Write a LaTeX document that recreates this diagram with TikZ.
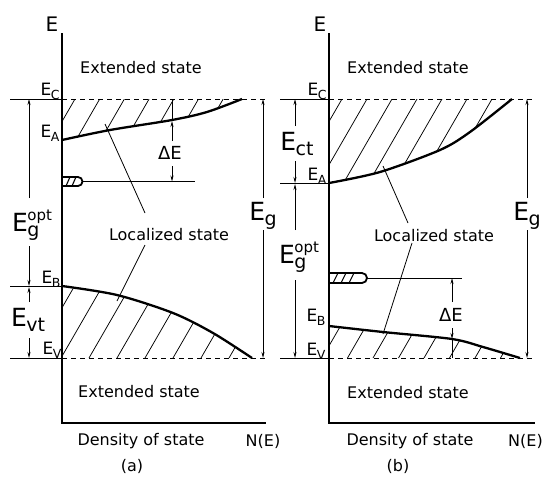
\documentclass[tikz,border=0pt]{standalone}
\usepackage{fontspec}
\setmainfont{DejaVu Sans}
\usetikzlibrary{arrows.meta}
\newcommand\Esm[1]{E\kern-0.5pt\raisebox{-4pt}{\fontsize{12.5}{12.5}\selectfont #1}}
\newcommand\Ebig[1]{E\kern-0.5pt\raisebox{-5.5pt}{\fontsize{19}{19}\selectfont #1}}
\newcommand\Eopt{E\kern-0.5pt\rlap{\raisebox{-5.5pt}{\fontsize{19}{19}\selectfont g}}\raisebox{11pt}{\fontsize{15}{15}\selectfont opt}}
\begin{document}
\begin{tikzpicture}[x=1pt,y=-1pt,
  thinline/.style={line width=0.8pt},
  axisline/.style={line width=1.2pt},
  thick curve/.style={line width=2.3pt},
  dashline/.style={line width=0.8pt, dash pattern=on 5pt off 4pt},
  hatchline/.style={line width=0.75pt},
  arr/.style={line width=0.8pt, -{Stealth[length=6pt,width=3pt]}},
  txt/.style={font=\fontsize{16}{18}\selectfont, inner sep=0pt},
  smlab/.style={font=\fontsize{17}{19}\selectfont, inner sep=0pt},
  biglab/.style={font=\fontsize{25}{27}\selectfont, inner sep=0pt},
  defect/.style={line width=1.8pt},
]
\useasboundingbox (0,0) rectangle (543,485);

%================ panel (a) =================
\coordinate (aTop) at (62,33);
\coordinate (aO) at (62,423);
\coordinate (aR) at (266,423);
\draw[axisline] (aTop) -- (aO) -- (aR);

% level lines
\draw[thinline] (10,99) -- (62,99);
\draw[dashline] (62,99) -- (266,99);
\draw[thinline] (10,286) -- (62,286);
\draw[thinline] (10,358) -- (62,358);
\draw[dashline] (62,358) -- (266,358);

% hatching upper
\begin{scope}
\clip (62,99) -- plot[smooth] coordinates {(62,140) (110,130) (172,120) (207,112) (242,99)} -- cycle;
\foreach \t in {75,99.7,...,270} \draw[hatchline] (\t,99) -- ++(-40,69.3);
\end{scope}
\draw[thick curve] plot[smooth] coordinates {(62,140) (110,130) (172,120) (207,112) (242,99)};

% hatching lower
\begin{scope}
\clip plot[smooth] coordinates {(62,286) (117,295) (173,313) (213,333) (252,358)} -- (62,358) -- cycle;
\foreach \b in {33,61,...,270} \draw[hatchline] (\b,358) -- ++(40,-69.3);
\end{scope}
\draw[thick curve] plot[smooth] coordinates {(62,286) (117,295) (173,313) (213,333) (252,358)};

% defect level
\draw[defect] (62,177) -- (78,177) arc (-90:90:4.5) -- (62,186);
\draw[line width=1.1pt] (66,186) -- (70,177) (72,186) -- (76,177);
\draw[thinline] (82.5,181.5) -- (195,181.5);

% Delta E
\node[txt, font=\fontsize{18}{20}\selectfont] (aDE) at (170,153) {ΔE};
\draw[thinline] (172,99) -- (172,121);
\draw[arr] (172,141) -- (172,121);
\draw[arr] (172,166) -- (172,181.5);

% Eg
\node[biglab] (aEg) at (263,216) {\Ebig{g}};
\draw[arr] (263,198) -- (263,99);
\draw[arr] (263,230) -- (263,358);

% Eg opt and Evt
\node[biglab] (aEopt) at (32,225) {\Eopt};
\draw[arr] (29,198) -- (29,99);
\draw[arr] (29,246) -- (29,286);
\node[biglab] (aEvt) at (28,320) {\Ebig{vt}};
\draw[arr] (29,302) -- (29,287);
\draw[arr] (29,338) -- (29,358);

% level labels
\node[smlab] (aEc) at (50,91) {\Esm{C}};
\node[smlab] (aEa) at (50,133) {\Esm{A}};
\node[smlab] (aEb) at (51,279) {\Esm{B}};
\node[smlab] (aEv) at (52,350) {\Esm{V}};
\node[font=\fontsize{20}{22}\selectfont, inner sep=0pt] (aE) at (52,24) {E};

% texts
\node[txt] (aExt1) at (141,68) {Extended state};
\node[txt] (aLoc) at (169,235) {Localized state};
\node[txt] (aExt2) at (139,392) {Extended state};
\node[txt] (aDos) at (141,441) {Density of state};
\node[txt] (aNE) at (263,441) {N(E)};
\node[txt] (aLab) at (132,466) {(a)};
\draw[thinline] (145,213) -- (105,124);
\draw[thinline] (145,245) -- (117,301);

%================ panel (b) =================
\coordinate (bTop) at (329,33);
\coordinate (bO) at (329,423);
\coordinate (bR) at (535,423);
\draw[axisline] (bTop) -- (bO) -- (bR);

\draw[thinline] (280,99) -- (329,99);
\draw[dashline] (329,99) -- (535,99);
\draw[thinline] (280,183) -- (329,183);
\draw[thinline] (280,358) -- (329,358);
\draw[dashline] (329,358) -- (535,358);

\begin{scope}
\clip (329,99) -- plot[smooth] coordinates {(329,183) (380,172) (440,150) (470,132) (512,99)} -- cycle;
\foreach \t in {342,367,...,540} \draw[hatchline] (\t,99) -- ++(-50,86.6);
\end{scope}
\draw[thick curve] plot[smooth] coordinates {(329,183) (380,172) (440,150) (470,132) (512,99)};

\begin{scope}
\clip plot[smooth] coordinates {(329,326) (383,332) (452,339) (483,347) (520,358)} -- (329,358) -- cycle;
\foreach \b in {322,347.5,...,540} \draw[hatchline] (\b,358) -- ++(40,-69.3);
\end{scope}
\draw[thick curve] plot[smooth] coordinates {(329,326) (383,332) (452,339) (483,347) (520,358)};

% defect
\draw[defect] (329,273) -- (362,273) arc (-90:90:5) -- (329,283);
\draw[line width=1.1pt] (333,283) -- (338,273) (341,283) -- (346,273) (349,283) -- (354,273);
\draw[thinline] (367,278) -- (462,278);

% Delta E
\node[txt, font=\fontsize{18}{20}\selectfont] (bDE) at (451,315) {ΔE};
\draw[arr] (452,302) -- (452,278);
\draw[arr] (452,328) -- (452,339);
\draw[thinline] (452,339) -- (452,358);

% Eg
\node[biglab] (bEg) at (527,216) {\Ebig{g}};
\draw[arr] (527,198) -- (527,99);
\draw[arr] (527,230) -- (527,358);

% Ect, Eopt
\node[biglab] (bEct) at (297,144) {\Ebig{ct}};
\draw[arr] (295,126) -- (295,99);
\draw[arr] (295,161) -- (295,183);
\node[biglab] (bEopt) at (299,257) {\Eopt};
\draw[arr] (295,230) -- (295,184);
\draw[arr] (295,280) -- (295,358);

\node[smlab] (bEc) at (317,91) {\Esm{C}};
\node[smlab] (bEa) at (317,176) {\Esm{A}};
\node[smlab] (bEb) at (316,317) {\Esm{B}};
\node[smlab] (bEv) at (316,351) {\Esm{V}};
\node[font=\fontsize{20}{22}\selectfont, inner sep=0pt] (bE) at (320,24) {E};

\node[txt] (bExt1) at (408,68) {Extended state};
\node[txt] (bLoc) at (434,236) {Localized state};
\node[txt] (bExt2) at (408,393) {Extended state};
\node[txt] (bDos) at (410,441) {Density of state};
\node[txt, anchor=east] (bNE) at (543,441) {N(E)};
\node[txt] (bLab) at (398,466) {(b)};
\draw[thinline] (408,223) -- (383,166);
\draw[thinline] (412,243) -- (383,334);
\end{tikzpicture}
\end{document}
